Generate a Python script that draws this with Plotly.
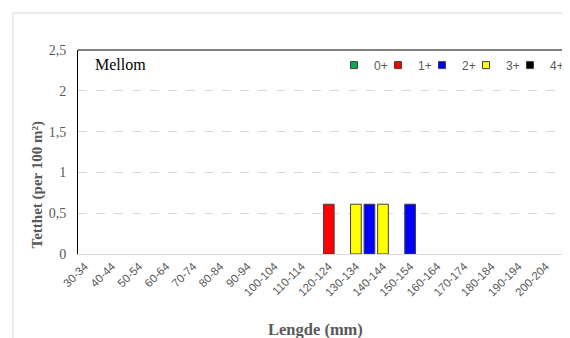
import plotly.graph_objects as go

categories = ["30-34", "35-39", "40-44", "45-49", "50-54", "55-59", "60-64", "65-69",
              "70-74", "75-79", "80-84", "85-89", "90-94", "95-99", "100-104", "105-109",
              "110-114", "115-119", "120-124", "125-129", "130-134", "135-139", "140-144",
              "145-149", "150-154", "155-159", "160-164", "165-169", "170-174", "175-179",
              "180-184", "185-189", "190-194", "195-199", "200-204", "205-209"]

tick_labels = ["30-34", "40-44", "50-54", "60-64", "70-74", "80-84", "90-94", "100-104",
               "110-114", "120-124", "130-134", "140-144", "150-154", "160-164", "170-174",
               "180-184", "190-194", "200-204"]

age0 = [0, 0, 0, 0, 0, 0, 0, 0, 0, 0, 0, 0, 0, 0, 0, 0, 0, 0,
        0, 0, 0, 0, 0, 0, 0, 0, 0, 0, 0, 0, 0, 0, 0, 0, 0, 0]
age1 = [0, 0, 0, 0, 0, 0, 0, 0, 0, 0, 0, 0, 0, 0, 0, 0, 0, 0,
        0.61, 0, 0, 0, 0, 0, 0, 0, 0, 0, 0, 0, 0, 0, 0, 0, 0, 0]
age2 = [0, 0, 0, 0, 0, 0, 0, 0, 0, 0, 0, 0, 0, 0, 0, 0, 0, 0,
        0, 0, 0, 0.61, 0, 0, 0.61, 0, 0, 0, 0, 0, 0, 0, 0, 0, 0, 0]
age3 = [0, 0, 0, 0, 0, 0, 0, 0, 0, 0, 0, 0, 0, 0, 0, 0, 0, 0,
        0, 0, 0.61, 0, 0.61, 0, 0, 0, 0, 0, 0, 0, 0, 0, 0, 0, 0, 0]
age4 = [0, 0, 0, 0, 0, 0, 0, 0, 0, 0, 0, 0, 0, 0, 0, 0, 0, 0,
        0, 0, 0, 0, 0, 0, 0, 0, 0, 0, 0, 0, 0, 0, 0, 0, 0, 0]

series_names = ["0+", "1+", "2+", "3+", "4+"]
series_values = [age0, age1, age2, age3, age4]
series_colors = ["#00b050", "#ff0000", "#0000ff", "#ffff00", "#000000"]

# one-item legends, placed along the top-right of the plot
legend_ids = ["legend", "legend2", "legend3", "legend4", "legend5"]
legend_x = [0.5246, 0.6148, 0.7049, 0.7951, 0.8852]

fig = go.Figure()
for name, vals, col, lid in zip(series_names, series_values, series_colors, legend_ids):
    fig.add_trace(go.Bar(
        x=categories, y=[v if v else None for v in vals], name=name,
        legendgroup=name, showlegend=False,
        marker=dict(color=col, line=dict(color="#404040", width=1)),
    ))
    fig.add_trace(go.Scatter(
        x=[None], y=[None], mode="markers", name=name, legendgroup=name,
        legend=lid, showlegend=True, hoverinfo="skip",
        marker=dict(symbol="square", size=7, color=col, line=dict(color="#404040", width=1)),
    ))

legend_font = dict(family="Liberation Sans", size=12, color="#595959")
legends = {}
for lid, lx in zip(legend_ids, legend_x):
    legends[lid] = dict(
        orientation="h", x=lx, xanchor="left", y=0.926, yanchor="middle",
        font=legend_font, bgcolor="rgba(0,0,0,0)", itemwidth=30, borderwidth=0,
    )

fig.update_layout(
    width=570, height=338,
    margin=dict(l=70, r=12, t=42, b=92, autoexpand=False),
    paper_bgcolor="white", plot_bgcolor="white",
    barmode="overlay", bargap=0.21,
    separators=", ",
    showlegend=True,
    **legends,
    xaxis=dict(
        type="category", categoryorder="array", categoryarray=categories,
        tickmode="array", tickvals=tick_labels, ticktext=tick_labels,
        tickangle=-45, tickfont=dict(family="Liberation Sans", size=11.5, color="#595959"),
        showline=True, linecolor="#d9d9d9", linewidth=1,
        showgrid=False, ticks="", range=[-0.5, len(categories) - 0.5],
    ),
    yaxis=dict(
        range=[0, 2.5], dtick=0.5, tick0=0,
        tickfont=dict(family="Liberation Serif", size=14, color="#595959"),
        showgrid=True, gridcolor="#d9d9d9", griddash="dash", gridwidth=1,
        zeroline=False, showline=True, linecolor="#000000", linewidth=1, mirror=True,
        ticks="", ticklabelstandoff=8,
    ),
    shapes=[
        dict(type="rect", xref="paper", yref="paper", x0=-0.1332, x1=1.5, y0=-1.0, y1=1.1814,
             line=dict(color="#d9d9d9", width=1), fillcolor="rgba(0,0,0,0)", layer="below"),
        dict(type="line", xref="paper", yref="paper", x0=0, x1=1, y0=1, y1=1,
             line=dict(color="#000000", width=1)),
    ],
    annotations=[
        dict(text="Mellom", xref="paper", yref="paper", x=0.0307, y=0.931,
             xanchor="left", yanchor="middle", showarrow=False,
             font=dict(family="Liberation Serif", size=16, color="#000000")),
        dict(text="<b>Tetthet (per 100 m²)</b>", xref="paper", yref="paper",
             x=-0.082, y=0.3407, textangle=-90, xanchor="center", yanchor="middle",
             showarrow=False, font=dict(family="Liberation Serif", size=15, color="#595959")),
        dict(text="<b>Lengde (mm)</b>", xref="paper", yref="paper",
             x=0.4867, y=-0.372, xanchor="center", yanchor="middle",
             showarrow=False, font=dict(family="Liberation Serif", size=16.5, color="#595959")),
    ],
)

fig.write_html("out.html")
